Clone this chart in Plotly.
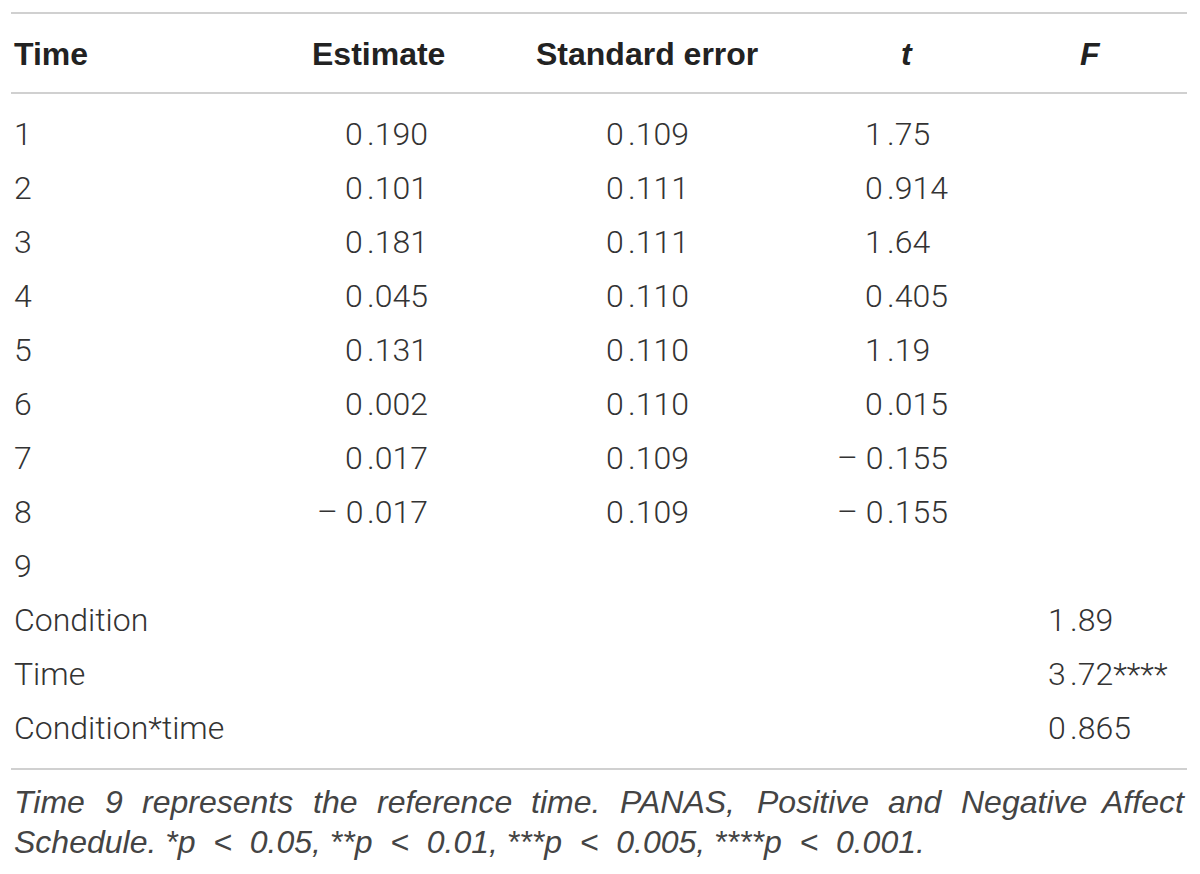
import plotly.graph_objects as go

# --- table content ---
headers = ["Time", "Estimate", "Standard error", "t", "F"]
time_labels = ["1", "2", "3", "4", "5", "6", "7", "8", "9",
               "Condition", "Time", "Condition*time"]
estimate = ["0.190", "0.101", "0.181", "0.045", "0.131", "0.002", "0.017", "– 0.017",
            None, None, None, None]
std_error = ["0.109", "0.111", "0.111", "0.110", "0.110", "0.110", "0.109", "0.109",
             None, None, None, None]
t_values = ["1.75", "0.914", "1.64", "0.405", "1.19", "0.015", "– 0.155", "– 0.155",
            None, None, None, None]
f_values = [None, None, None, None, None, None, None, None, None,
            "1.89", "3.72****", "0.865"]

note_line1 = ["Time", "9", "represents", "the", "reference", "time.", "PANAS,",
              "Positive", "and", "Negative", "Affect"]
note_line2 = "Schedule. *p < 0.05, **p < 0.01, ***p < 0.005, ****p < 0.001."

# --- layout constants (pixels in the 1200x874 page) ---
PAD = 8                      # the page body margin
W, H = 1200, 874
LEFT, RIGHT = 11, 1187
HEADER_Y = 54
ROW0_Y, ROW_STEP = 134, 54
LINE_TOP, LINE_HEAD, LINE_BOTTOM = 13, 93, 769
NOTE_Y1, NOTE_Y2 = 802, 842
header_x = [12, 378, 647, 907, 1090]
decimal_x = [365, 626, 885, 1068]      # decimal point column for numeric columns
# word starts of the justified first footnote line
note_x = [12, 103, 140, 311, 375, 529, 618, 755, 886, 959]

BODY = dict(family="Roboto", size=32, color="#333333", weight=300)
BOLD = dict(family="Liberation Sans", size=32, color="#222222", weight=700)
NOTE = dict(family="Liberation Sans", size=32, color="#444444", style="italic")
RULE = dict(color="#d0d0d0", width=2)

fig = go.Figure()


def text(x, y, s, font, anchor="left"):
    fig.add_annotation(x=x, y=y, xref="x", yref="y", text=s, showarrow=False,
                       xanchor=anchor, yanchor="middle", font=font, align=anchor)


# horizontal rules
for y in (LINE_TOP, LINE_HEAD, LINE_BOTTOM):
    fig.add_shape(type="line", x0=LEFT, x1=RIGHT, y0=y, y1=y, xref="x", yref="y", line=RULE)

# header row
text(header_x[0], HEADER_Y, "<b>Time</b>", BOLD)
text(header_x[1], HEADER_Y, "<b>Estimate</b>", BOLD, "center")
text(header_x[2], HEADER_Y, "<b>Standard error</b>", BOLD, "center")
text(header_x[3], HEADER_Y, "<b><i>t</i></b>", BOLD, "center")
text(header_x[4], HEADER_Y, "<b><i>F</i></b>", BOLD, "center")

# body rows, numbers aligned on the decimal point
columns = [estimate, std_error, t_values, f_values]
for i, label in enumerate(time_labels):
    y = ROW0_Y + i * ROW_STEP
    text(header_x[0], y, label, BODY)
    for col, dx in zip(columns, decimal_x):
        val = col[i]
        if val is None:
            continue
        k = val.index(".")
        text(dx, y, val[:k], BODY, "right")
        text(dx, y, val[k:], BODY, "left")

# footnote: first line justified, second line natural
for word, x in zip(note_line1[:-1], note_x):
    text(x, NOTE_Y1, word, NOTE)
text(RIGHT, NOTE_Y1, note_line1[-1], NOTE, "right")
text(12, NOTE_Y2, note_line2.replace(" < ", "&nbsp;&nbsp;<&nbsp;&nbsp;"), NOTE)

fig.update_xaxes(range=[PAD, W], visible=False, fixedrange=True)
fig.update_yaxes(range=[H, PAD], visible=False, fixedrange=True)
fig.update_layout(width=W - PAD, height=H - PAD, margin=dict(l=0, r=0, t=0, b=0),
                  paper_bgcolor="white", plot_bgcolor="white", showlegend=False)

fig.write_html("out.html")
